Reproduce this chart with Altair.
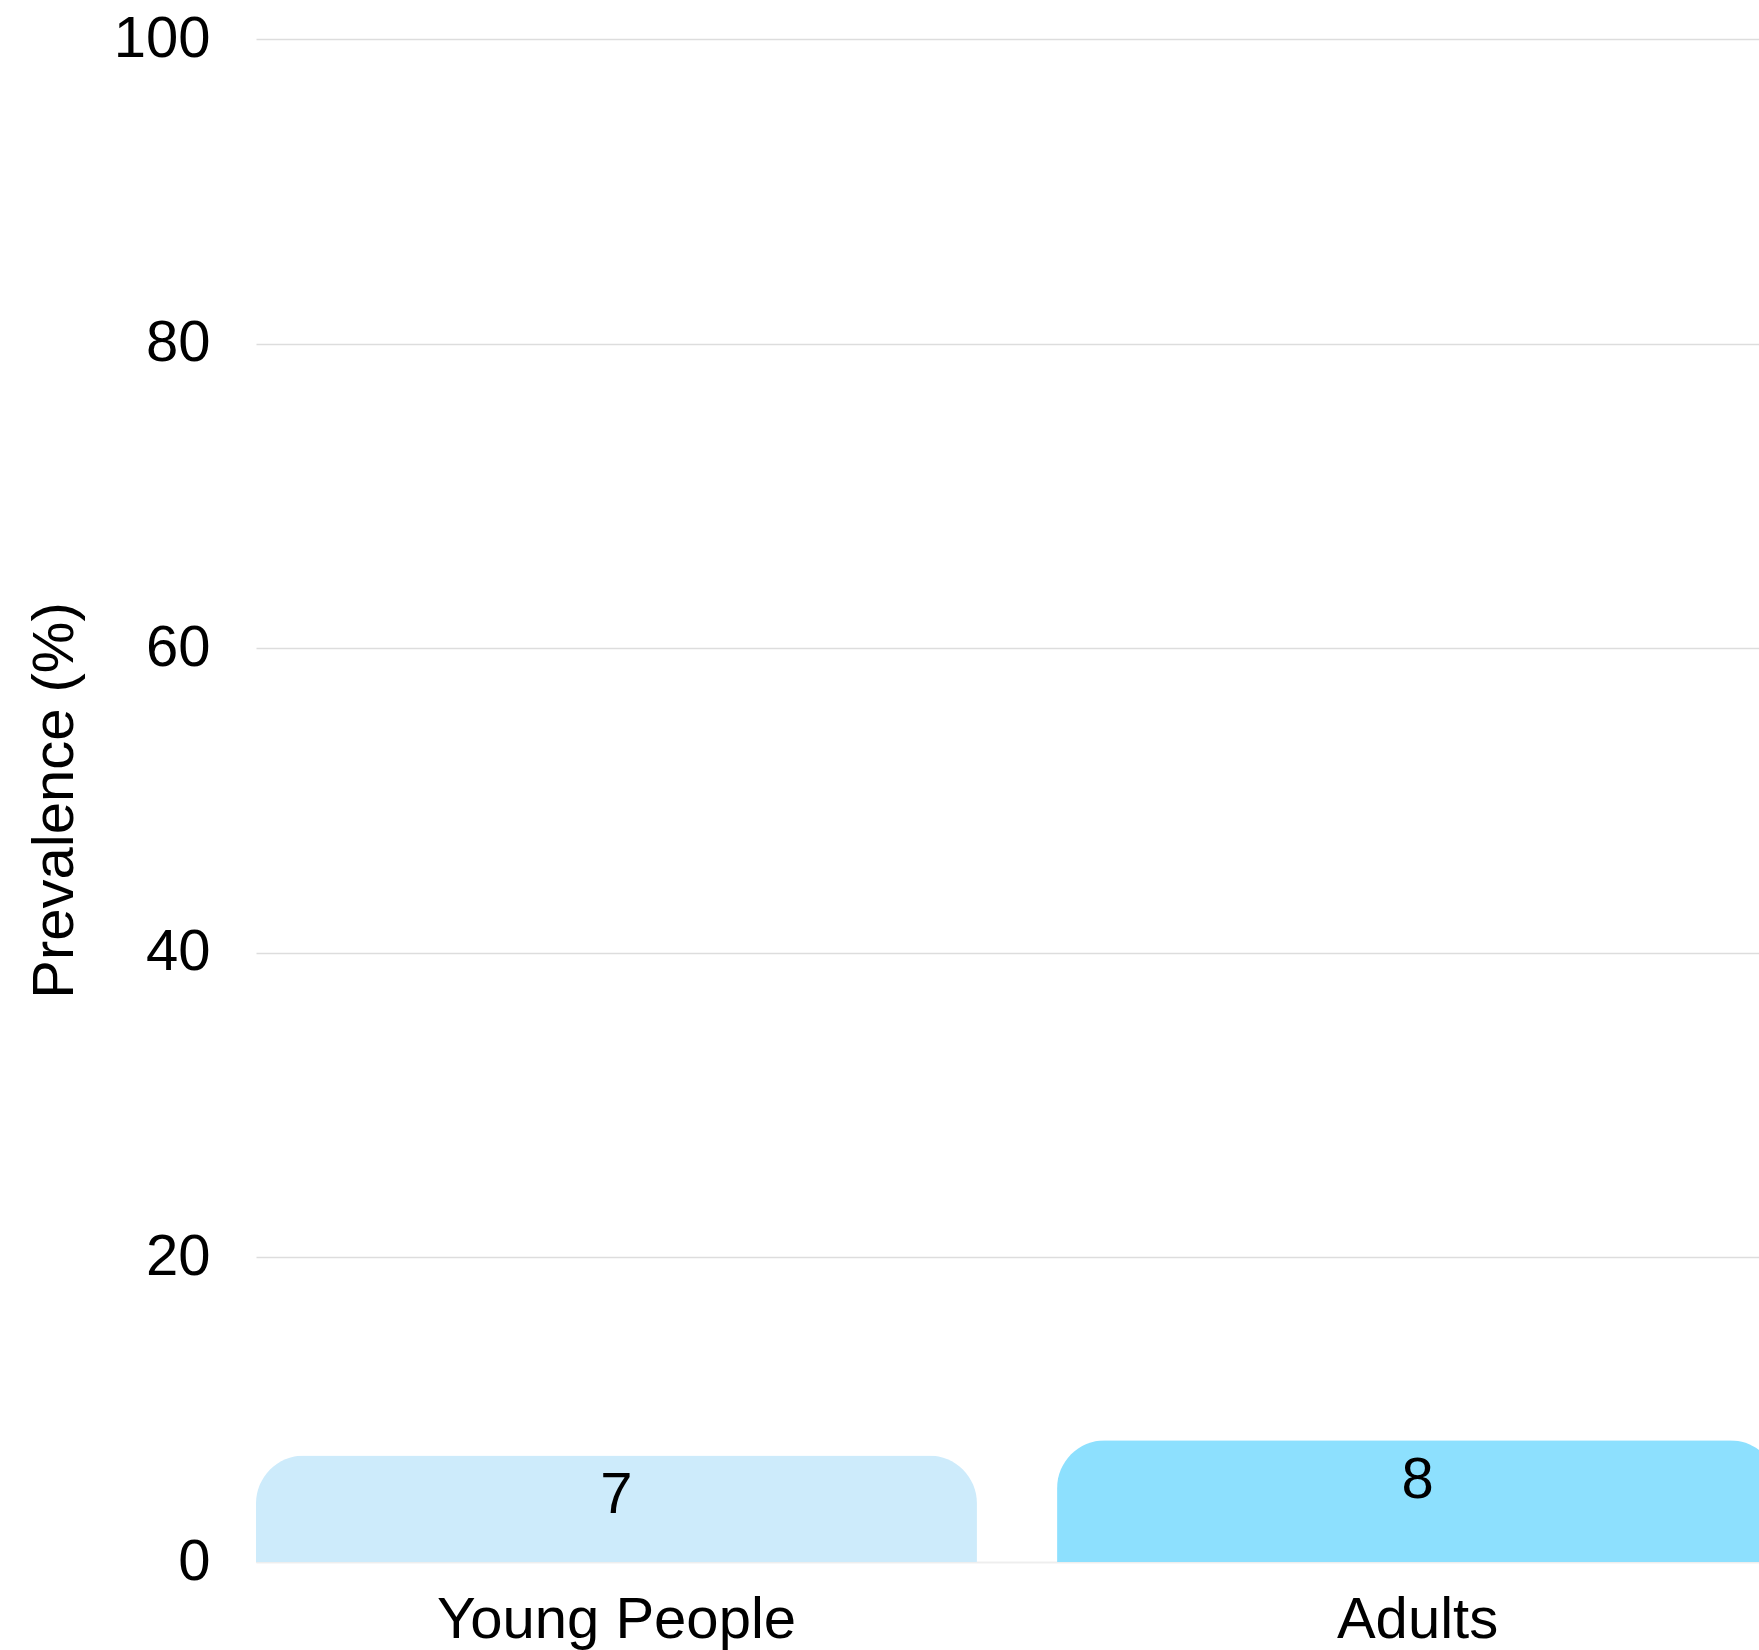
import altair as alt
import pandas as pd

# Prevalence by age group
groups = ["Young People", "Adults"]
prevalence = [7, 8]
bar_colors = ["#CDEBFB", "#8DE0FE"]

df = pd.DataFrame({"group": groups, "value": prevalence})

FONT = "Liberation Sans"

x_enc = alt.X(
    "group:N",
    sort=groups,
    scale=alt.Scale(paddingInner=0.1, paddingOuter=0, range=[0, 1522]),
    axis=alt.Axis(
        title=None,
        labelAngle=0,
        labelFontSize=58,
        labelFont=FONT,
        labelColor="#000000",
        labelPadding=29,
        labelLimit=0,
        ticks=False,
        grid=False,
        domain=True,
        domainColor="#eeeeee",
        domainWidth=1,
    ),
)

y_enc = alt.Y(
    "value:Q",
    scale=alt.Scale(domain=[0, 100]),
    axis=alt.Axis(
        title="Prevalence (%)",
        values=[0, 20, 40, 60, 80, 100],
        labelFontSize=58,
        labelFont=FONT,
        labelColor="#000000",
        labelPadding=46,
        ticks=False,
        domain=False,
        grid=True,
        gridColor="#dddddd",
        gridWidth=1.5,
        titleFont=FONT,
        titleFontSize=58,
        titleFontWeight="normal",
        titleColor="#000000",
        titleAngle=270,
        titleBaseline="alphabetic",
        titleX=-184,
        titleY=761,
    ),
)

bars = alt.Chart(df).mark_bar(
    cornerRadiusTopLeft=48,
    cornerRadiusTopRight=48,
).encode(
    x=x_enc,
    y=y_enc,
    color=alt.Color(
        "group:N",
        sort=groups,
        scale=alt.Scale(domain=groups, range=bar_colors),
        legend=None,
    ),
)

# value labels inside the top of each bar
labels = alt.Chart(df).mark_text(
    baseline="top",
    dy=12,
    fontSize=58,
    font=FONT,
    color="#000000",
).encode(
    x=alt.X("group:N", sort=groups),
    y=alt.Y("value:Q"),
    text=alt.Text("value:Q"),
)

chart = (
    alt.layer(bars, labels)
    .properties(
        width=1503,
        height=1523,
        background="#ffffff",
        autosize=alt.AutoSizeParams(type="none"),
        padding={"left": 256, "top": 39, "right": 0, "bottom": 88},
    )
    .configure_view(stroke="transparent", strokeWidth=0)
)

chart.save("out.html", embed_options={"renderer": "svg", "actions": False})
